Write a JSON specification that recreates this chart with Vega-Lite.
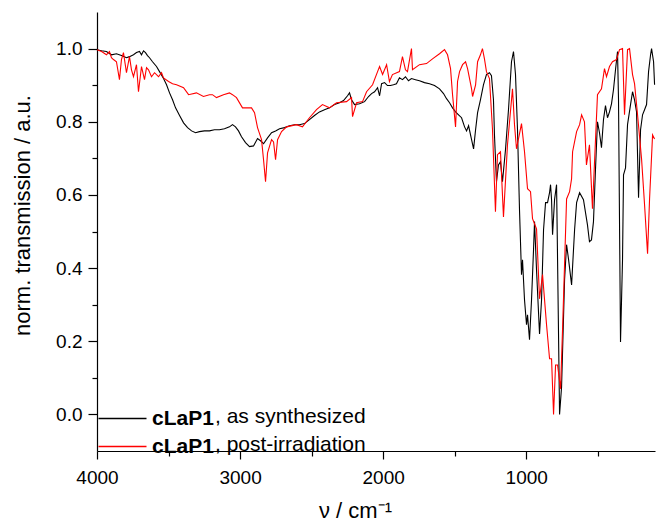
{
"$schema":"https://vega.github.io/schema/vega-lite/v6.json",
"width":558,"height":439,
"autosize":{"type":"none"},
"padding":{"left":97,"top":12,"right":1,"bottom":75},
"background":"white",
"config":{"view":{"stroke":null},
"axis":{"grid":false,"domainColor":"#000","domainWidth":1.2,"tickColor":"#000","tickWidth":1.2,"labelColor":"#000","labelFont":"Liberation Sans","labelFontSize":19,"titleFont":"Liberation Sans","titleFontSize":22,"titleFontWeight":"normal","titleColor":"#000"},
"legend":{"labelFont":"Liberation Sans","labelColor":"#000"}},
"datasets":{"spec":[
{"wn":4000,"T":0.997,"s":"as synthesized","s2":", as synthesized"},{"wn":3968,"T":0.994,"s":"as synthesized","s2":", as synthesized"},{"wn":3934,"T":0.992,"s":"as synthesized","s2":", as synthesized"},{"wn":3899,"T":0.983,"s":"as synthesized","s2":", as synthesized"},{"wn":3864,"T":0.986,"s":"as synthesized","s2":", as synthesized"},{"wn":3829,"T":0.981,"s":"as synthesized","s2":", as synthesized"},{"wn":3794,"T":0.975,"s":"as synthesized","s2":", as synthesized"},{"wn":3773,"T":0.978,"s":"as synthesized","s2":", as synthesized"},{"wn":3745,"T":0.983,"s":"as synthesized","s2":", as synthesized"},{"wn":3724,"T":0.989,"s":"as synthesized","s2":", as synthesized"},{"wn":3703,"T":0.992,"s":"as synthesized","s2":", as synthesized"},{"wn":3689,"T":0.983,"s":"as synthesized","s2":", as synthesized"},{"wn":3675,"T":0.994,"s":"as synthesized","s2":", as synthesized"},{"wn":3661,"T":0.989,"s":"as synthesized","s2":", as synthesized"},{"wn":3647,"T":0.981,"s":"as synthesized","s2":", as synthesized"},{"wn":3633,"T":0.975,"s":"as synthesized","s2":", as synthesized"},{"wn":3612,"T":0.964,"s":"as synthesized","s2":", as synthesized"},{"wn":3584,"T":0.951,"s":"as synthesized","s2":", as synthesized"},{"wn":3563,"T":0.937,"s":"as synthesized","s2":", as synthesized"},{"wn":3535,"T":0.918,"s":"as synthesized","s2":", as synthesized"},{"wn":3514,"T":0.901,"s":"as synthesized","s2":", as synthesized"},{"wn":3493,"T":0.879,"s":"as synthesized","s2":", as synthesized"},{"wn":3472,"T":0.860,"s":"as synthesized","s2":", as synthesized"},{"wn":3451,"T":0.838,"s":"as synthesized","s2":", as synthesized"},{"wn":3423,"T":0.817,"s":"as synthesized","s2":", as synthesized"},{"wn":3395,"T":0.797,"s":"as synthesized","s2":", as synthesized"},{"wn":3367,"T":0.784,"s":"as synthesized","s2":", as synthesized"},{"wn":3339,"T":0.775,"s":"as synthesized","s2":", as synthesized"},{"wn":3311,"T":0.770,"s":"as synthesized","s2":", as synthesized"},{"wn":3284,"T":0.773,"s":"as synthesized","s2":", as synthesized"},{"wn":3249,"T":0.775,"s":"as synthesized","s2":", as synthesized"},{"wn":3214,"T":0.775,"s":"as synthesized","s2":", as synthesized"},{"wn":3179,"T":0.778,"s":"as synthesized","s2":", as synthesized"},{"wn":3144,"T":0.778,"s":"as synthesized","s2":", as synthesized"},{"wn":3109,"T":0.781,"s":"as synthesized","s2":", as synthesized"},{"wn":3074,"T":0.786,"s":"as synthesized","s2":", as synthesized"},{"wn":3053,"T":0.792,"s":"as synthesized","s2":", as synthesized"},{"wn":3032,"T":0.786,"s":"as synthesized","s2":", as synthesized"},{"wn":3011,"T":0.775,"s":"as synthesized","s2":", as synthesized"},{"wn":2990,"T":0.759,"s":"as synthesized","s2":", as synthesized"},{"wn":2962,"T":0.743,"s":"as synthesized","s2":", as synthesized"},{"wn":2934,"T":0.732,"s":"as synthesized","s2":", as synthesized"},{"wn":2906,"T":0.734,"s":"as synthesized","s2":", as synthesized"},{"wn":2878,"T":0.754,"s":"as synthesized","s2":", as synthesized"},{"wn":2857,"T":0.748,"s":"as synthesized","s2":", as synthesized"},{"wn":2836,"T":0.740,"s":"as synthesized","s2":", as synthesized"},{"wn":2808,"T":0.756,"s":"as synthesized","s2":", as synthesized"},{"wn":2780,"T":0.770,"s":"as synthesized","s2":", as synthesized"},{"wn":2752,"T":0.775,"s":"as synthesized","s2":", as synthesized"},{"wn":2724,"T":0.781,"s":"as synthesized","s2":", as synthesized"},{"wn":2689,"T":0.784,"s":"as synthesized","s2":", as synthesized"},{"wn":2654,"T":0.789,"s":"as synthesized","s2":", as synthesized"},{"wn":2620,"T":0.792,"s":"as synthesized","s2":", as synthesized"},{"wn":2585,"T":0.792,"s":"as synthesized","s2":", as synthesized"},{"wn":2550,"T":0.795,"s":"as synthesized","s2":", as synthesized"},{"wn":2515,"T":0.806,"s":"as synthesized","s2":", as synthesized"},{"wn":2480,"T":0.817,"s":"as synthesized","s2":", as synthesized"},{"wn":2445,"T":0.827,"s":"as synthesized","s2":", as synthesized"},{"wn":2410,"T":0.833,"s":"as synthesized","s2":", as synthesized"},{"wn":2375,"T":0.838,"s":"as synthesized","s2":", as synthesized"},{"wn":2340,"T":0.847,"s":"as synthesized","s2":", as synthesized"},{"wn":2305,"T":0.852,"s":"as synthesized","s2":", as synthesized"},{"wn":2277,"T":0.858,"s":"as synthesized","s2":", as synthesized"},{"wn":2249,"T":0.871,"s":"as synthesized","s2":", as synthesized"},{"wn":2235,"T":0.879,"s":"as synthesized","s2":", as synthesized"},{"wn":2221,"T":0.860,"s":"as synthesized","s2":", as synthesized"},{"wn":2200,"T":0.847,"s":"as synthesized","s2":", as synthesized"},{"wn":2165,"T":0.849,"s":"as synthesized","s2":", as synthesized"},{"wn":2130,"T":0.855,"s":"as synthesized","s2":", as synthesized"},{"wn":2102,"T":0.869,"s":"as synthesized","s2":", as synthesized"},{"wn":2081,"T":0.877,"s":"as synthesized","s2":", as synthesized"},{"wn":2060,"T":0.882,"s":"as synthesized","s2":", as synthesized"},{"wn":2039,"T":0.893,"s":"as synthesized","s2":", as synthesized"},{"wn":2025,"T":0.871,"s":"as synthesized","s2":", as synthesized"},{"wn":2011,"T":0.904,"s":"as synthesized","s2":", as synthesized"},{"wn":1990,"T":0.907,"s":"as synthesized","s2":", as synthesized"},{"wn":1970,"T":0.899,"s":"as synthesized","s2":", as synthesized"},{"wn":1949,"T":0.899,"s":"as synthesized","s2":", as synthesized"},{"wn":1928,"T":0.901,"s":"as synthesized","s2":", as synthesized"},{"wn":1907,"T":0.904,"s":"as synthesized","s2":", as synthesized"},{"wn":1886,"T":0.920,"s":"as synthesized","s2":", as synthesized"},{"wn":1865,"T":0.915,"s":"as synthesized","s2":", as synthesized"},{"wn":1844,"T":0.923,"s":"as synthesized","s2":", as synthesized"},{"wn":1823,"T":0.912,"s":"as synthesized","s2":", as synthesized"},{"wn":1802,"T":0.918,"s":"as synthesized","s2":", as synthesized"},{"wn":1774,"T":0.915,"s":"as synthesized","s2":", as synthesized"},{"wn":1746,"T":0.912,"s":"as synthesized","s2":", as synthesized"},{"wn":1711,"T":0.907,"s":"as synthesized","s2":", as synthesized"},{"wn":1676,"T":0.904,"s":"as synthesized","s2":", as synthesized"},{"wn":1641,"T":0.899,"s":"as synthesized","s2":", as synthesized"},{"wn":1606,"T":0.890,"s":"as synthesized","s2":", as synthesized"},{"wn":1578,"T":0.877,"s":"as synthesized","s2":", as synthesized"},{"wn":1557,"T":0.863,"s":"as synthesized","s2":", as synthesized"},{"wn":1536,"T":0.852,"s":"as synthesized","s2":", as synthesized"},{"wn":1515,"T":0.838,"s":"as synthesized","s2":", as synthesized"},{"wn":1494,"T":0.827,"s":"as synthesized","s2":", as synthesized"},{"wn":1473,"T":0.819,"s":"as synthesized","s2":", as synthesized"},{"wn":1452,"T":0.811,"s":"as synthesized","s2":", as synthesized"},{"wn":1431,"T":0.786,"s":"as synthesized","s2":", as synthesized"},{"wn":1417,"T":0.775,"s":"as synthesized","s2":", as synthesized"},{"wn":1403,"T":0.789,"s":"as synthesized","s2":", as synthesized"},{"wn":1382,"T":0.751,"s":"as synthesized","s2":", as synthesized"},{"wn":1368,"T":0.726,"s":"as synthesized","s2":", as synthesized"},{"wn":1354,"T":0.778,"s":"as synthesized","s2":", as synthesized"},{"wn":1340,"T":0.825,"s":"as synthesized","s2":", as synthesized"},{"wn":1320,"T":0.860,"s":"as synthesized","s2":", as synthesized"},{"wn":1299,"T":0.901,"s":"as synthesized","s2":", as synthesized"},{"wn":1278,"T":0.929,"s":"as synthesized","s2":", as synthesized"},{"wn":1257,"T":0.934,"s":"as synthesized","s2":", as synthesized"},{"wn":1243,"T":0.926,"s":"as synthesized","s2":", as synthesized"},{"wn":1229,"T":0.860,"s":"as synthesized","s2":", as synthesized"},{"wn":1222,"T":0.764,"s":"as synthesized","s2":", as synthesized"},{"wn":1208,"T":0.636,"s":"as synthesized","s2":", as synthesized"},{"wn":1194,"T":0.682,"s":"as synthesized","s2":", as synthesized"},{"wn":1180,"T":0.691,"s":"as synthesized","s2":", as synthesized"},{"wn":1166,"T":0.636,"s":"as synthesized","s2":", as synthesized"},{"wn":1145,"T":0.723,"s":"as synthesized","s2":", as synthesized"},{"wn":1124,"T":0.833,"s":"as synthesized","s2":", as synthesized"},{"wn":1103,"T":0.964,"s":"as synthesized","s2":", as synthesized"},{"wn":1089,"T":0.992,"s":"as synthesized","s2":", as synthesized"},{"wn":1075,"T":0.929,"s":"as synthesized","s2":", as synthesized"},{"wn":1061,"T":0.778,"s":"as synthesized","s2":", as synthesized"},{"wn":1047,"T":0.559,"s":"as synthesized","s2":", as synthesized"},{"wn":1033,"T":0.382,"s":"as synthesized","s2":", as synthesized"},{"wn":1026,"T":0.423,"s":"as synthesized","s2":", as synthesized"},{"wn":1012,"T":0.313,"s":"as synthesized","s2":", as synthesized"},{"wn":998,"T":0.245,"s":"as synthesized","s2":", as synthesized"},{"wn":991,"T":0.272,"s":"as synthesized","s2":", as synthesized"},{"wn":977,"T":0.204,"s":"as synthesized","s2":", as synthesized"},{"wn":963,"T":0.313,"s":"as synthesized","s2":", as synthesized"},{"wn":949,"T":0.450,"s":"as synthesized","s2":", as synthesized"},{"wn":942,"T":0.527,"s":"as synthesized","s2":", as synthesized"},{"wn":928,"T":0.395,"s":"as synthesized","s2":", as synthesized"},{"wn":907,"T":0.220,"s":"as synthesized","s2":", as synthesized"},{"wn":893,"T":0.313,"s":"as synthesized","s2":", as synthesized"},{"wn":879,"T":0.505,"s":"as synthesized","s2":", as synthesized"},{"wn":865,"T":0.579,"s":"as synthesized","s2":", as synthesized"},{"wn":851,"T":0.579,"s":"as synthesized","s2":", as synthesized"},{"wn":837,"T":0.606,"s":"as synthesized","s2":", as synthesized"},{"wn":830,"T":0.628,"s":"as synthesized","s2":", as synthesized"},{"wn":823,"T":0.587,"s":"as synthesized","s2":", as synthesized"},{"wn":816,"T":0.491,"s":"as synthesized","s2":", as synthesized"},{"wn":802,"T":0.587,"s":"as synthesized","s2":", as synthesized"},{"wn":788,"T":0.628,"s":"as synthesized","s2":", as synthesized"},{"wn":781,"T":0.423,"s":"as synthesized","s2":", as synthesized"},{"wn":767,"T":0.0,"s":"as synthesized","s2":", as synthesized"},{"wn":753,"T":0.075,"s":"as synthesized","s2":", as synthesized"},{"wn":732,"T":0.368,"s":"as synthesized","s2":", as synthesized"},{"wn":718,"T":0.464,"s":"as synthesized","s2":", as synthesized"},{"wn":704,"T":0.423,"s":"as synthesized","s2":", as synthesized"},{"wn":683,"T":0.354,"s":"as synthesized","s2":", as synthesized"},{"wn":662,"T":0.505,"s":"as synthesized","s2":", as synthesized"},{"wn":648,"T":0.579,"s":"as synthesized","s2":", as synthesized"},{"wn":627,"T":0.606,"s":"as synthesized","s2":", as synthesized"},{"wn":600,"T":0.587,"s":"as synthesized","s2":", as synthesized"},{"wn":572,"T":0.518,"s":"as synthesized","s2":", as synthesized"},{"wn":558,"T":0.472,"s":"as synthesized","s2":", as synthesized"},{"wn":544,"T":0.477,"s":"as synthesized","s2":", as synthesized"},{"wn":530,"T":0.527,"s":"as synthesized","s2":", as synthesized"},{"wn":516,"T":0.669,"s":"as synthesized","s2":", as synthesized"},{"wn":502,"T":0.800,"s":"as synthesized","s2":", as synthesized"},{"wn":488,"T":0.770,"s":"as synthesized","s2":", as synthesized"},{"wn":474,"T":0.729,"s":"as synthesized","s2":", as synthesized"},{"wn":460,"T":0.806,"s":"as synthesized","s2":", as synthesized"},{"wn":446,"T":0.844,"s":"as synthesized","s2":", as synthesized"},{"wn":432,"T":0.811,"s":"as synthesized","s2":", as synthesized"},{"wn":418,"T":0.827,"s":"as synthesized","s2":", as synthesized"},{"wn":404,"T":0.849,"s":"as synthesized","s2":", as synthesized"},{"wn":390,"T":0.888,"s":"as synthesized","s2":", as synthesized"},{"wn":376,"T":0.942,"s":"as synthesized","s2":", as synthesized"},{"wn":362,"T":0.992,"s":"as synthesized","s2":", as synthesized"},{"wn":355,"T":0.860,"s":"as synthesized","s2":", as synthesized"},{"wn":341,"T":0.198,"s":"as synthesized","s2":", as synthesized"},{"wn":327,"T":0.423,"s":"as synthesized","s2":", as synthesized"},{"wn":320,"T":0.655,"s":"as synthesized","s2":", as synthesized"},{"wn":306,"T":0.674,"s":"as synthesized","s2":", as synthesized"},{"wn":292,"T":0.792,"s":"as synthesized","s2":", as synthesized"},{"wn":271,"T":0.847,"s":"as synthesized","s2":", as synthesized"},{"wn":257,"T":0.882,"s":"as synthesized","s2":", as synthesized"},{"wn":243,"T":0.860,"s":"as synthesized","s2":", as synthesized"},{"wn":229,"T":0.827,"s":"as synthesized","s2":", as synthesized"},{"wn":215,"T":0.592,"s":"as synthesized","s2":", as synthesized"},{"wn":201,"T":0.778,"s":"as synthesized","s2":", as synthesized"},{"wn":187,"T":0.819,"s":"as synthesized","s2":", as synthesized"},{"wn":173,"T":0.833,"s":"as synthesized","s2":", as synthesized"},{"wn":159,"T":0.847,"s":"as synthesized","s2":", as synthesized"},{"wn":145,"T":0.937,"s":"as synthesized","s2":", as synthesized"},{"wn":131,"T":0.983,"s":"as synthesized","s2":", as synthesized"},{"wn":124,"T":1.0,"s":"as synthesized","s2":", as synthesized"},{"wn":110,"T":0.964,"s":"as synthesized","s2":", as synthesized"},{"wn":103,"T":0.901,"s":"as synthesized","s2":", as synthesized"},
{"wn":4000,"T":0.997,"s":"post-irradiation","s2":", post-irradiation"},{"wn":3968,"T":0.992,"s":"post-irradiation","s2":", post-irradiation"},{"wn":3934,"T":0.983,"s":"post-irradiation","s2":", post-irradiation"},{"wn":3913,"T":0.992,"s":"post-irradiation","s2":", post-irradiation"},{"wn":3899,"T":0.975,"s":"post-irradiation","s2":", post-irradiation"},{"wn":3885,"T":0.970,"s":"post-irradiation","s2":", post-irradiation"},{"wn":3864,"T":0.964,"s":"post-irradiation","s2":", post-irradiation"},{"wn":3843,"T":0.915,"s":"post-irradiation","s2":", post-irradiation"},{"wn":3829,"T":0.970,"s":"post-irradiation","s2":", post-irradiation"},{"wn":3815,"T":0.989,"s":"post-irradiation","s2":", post-irradiation"},{"wn":3794,"T":0.934,"s":"post-irradiation","s2":", post-irradiation"},{"wn":3773,"T":0.978,"s":"post-irradiation","s2":", post-irradiation"},{"wn":3759,"T":0.942,"s":"post-irradiation","s2":", post-irradiation"},{"wn":3745,"T":0.923,"s":"post-irradiation","s2":", post-irradiation"},{"wn":3724,"T":0.956,"s":"post-irradiation","s2":", post-irradiation"},{"wn":3710,"T":0.882,"s":"post-irradiation","s2":", post-irradiation"},{"wn":3689,"T":0.951,"s":"post-irradiation","s2":", post-irradiation"},{"wn":3668,"T":0.915,"s":"post-irradiation","s2":", post-irradiation"},{"wn":3654,"T":0.948,"s":"post-irradiation","s2":", post-irradiation"},{"wn":3640,"T":0.942,"s":"post-irradiation","s2":", post-irradiation"},{"wn":3619,"T":0.923,"s":"post-irradiation","s2":", post-irradiation"},{"wn":3598,"T":0.934,"s":"post-irradiation","s2":", post-irradiation"},{"wn":3570,"T":0.923,"s":"post-irradiation","s2":", post-irradiation"},{"wn":3549,"T":0.934,"s":"post-irradiation","s2":", post-irradiation"},{"wn":3535,"T":0.920,"s":"post-irradiation","s2":", post-irradiation"},{"wn":3500,"T":0.910,"s":"post-irradiation","s2":", post-irradiation"},{"wn":3472,"T":0.904,"s":"post-irradiation","s2":", post-irradiation"},{"wn":3444,"T":0.901,"s":"post-irradiation","s2":", post-irradiation"},{"wn":3395,"T":0.893,"s":"post-irradiation","s2":", post-irradiation"},{"wn":3360,"T":0.874,"s":"post-irradiation","s2":", post-irradiation"},{"wn":3305,"T":0.879,"s":"post-irradiation","s2":", post-irradiation"},{"wn":3256,"T":0.869,"s":"post-irradiation","s2":", post-irradiation"},{"wn":3214,"T":0.874,"s":"post-irradiation","s2":", post-irradiation"},{"wn":3193,"T":0.874,"s":"post-irradiation","s2":", post-irradiation"},{"wn":3165,"T":0.866,"s":"post-irradiation","s2":", post-irradiation"},{"wn":3116,"T":0.874,"s":"post-irradiation","s2":", post-irradiation"},{"wn":3074,"T":0.879,"s":"post-irradiation","s2":", post-irradiation"},{"wn":3053,"T":0.874,"s":"post-irradiation","s2":", post-irradiation"},{"wn":3025,"T":0.866,"s":"post-irradiation","s2":", post-irradiation"},{"wn":2983,"T":0.838,"s":"post-irradiation","s2":", post-irradiation"},{"wn":2920,"T":0.838,"s":"post-irradiation","s2":", post-irradiation"},{"wn":2899,"T":0.825,"s":"post-irradiation","s2":", post-irradiation"},{"wn":2878,"T":0.784,"s":"post-irradiation","s2":", post-irradiation"},{"wn":2850,"T":0.751,"s":"post-irradiation","s2":", post-irradiation"},{"wn":2836,"T":0.696,"s":"post-irradiation","s2":", post-irradiation"},{"wn":2822,"T":0.636,"s":"post-irradiation","s2":", post-irradiation"},{"wn":2808,"T":0.715,"s":"post-irradiation","s2":", post-irradiation"},{"wn":2780,"T":0.751,"s":"post-irradiation","s2":", post-irradiation"},{"wn":2766,"T":0.745,"s":"post-irradiation","s2":", post-irradiation"},{"wn":2752,"T":0.696,"s":"post-irradiation","s2":", post-irradiation"},{"wn":2738,"T":0.751,"s":"post-irradiation","s2":", post-irradiation"},{"wn":2710,"T":0.773,"s":"post-irradiation","s2":", post-irradiation"},{"wn":2675,"T":0.786,"s":"post-irradiation","s2":", post-irradiation"},{"wn":2606,"T":0.792,"s":"post-irradiation","s2":", post-irradiation"},{"wn":2564,"T":0.786,"s":"post-irradiation","s2":", post-irradiation"},{"wn":2515,"T":0.811,"s":"post-irradiation","s2":", post-irradiation"},{"wn":2466,"T":0.833,"s":"post-irradiation","s2":", post-irradiation"},{"wn":2424,"T":0.847,"s":"post-irradiation","s2":", post-irradiation"},{"wn":2375,"T":0.838,"s":"post-irradiation","s2":", post-irradiation"},{"wn":2326,"T":0.852,"s":"post-irradiation","s2":", post-irradiation"},{"wn":2256,"T":0.855,"s":"post-irradiation","s2":", post-irradiation"},{"wn":2221,"T":0.866,"s":"post-irradiation","s2":", post-irradiation"},{"wn":2214,"T":0.814,"s":"post-irradiation","s2":", post-irradiation"},{"wn":2186,"T":0.852,"s":"post-irradiation","s2":", post-irradiation"},{"wn":2144,"T":0.855,"s":"post-irradiation","s2":", post-irradiation"},{"wn":2116,"T":0.882,"s":"post-irradiation","s2":", post-irradiation"},{"wn":2074,"T":0.901,"s":"post-irradiation","s2":", post-irradiation"},{"wn":2039,"T":0.937,"s":"post-irradiation","s2":", post-irradiation"},{"wn":2025,"T":0.951,"s":"post-irradiation","s2":", post-irradiation"},{"wn":2004,"T":0.929,"s":"post-irradiation","s2":", post-irradiation"},{"wn":1976,"T":0.956,"s":"post-irradiation","s2":", post-irradiation"},{"wn":1956,"T":0.910,"s":"post-irradiation","s2":", post-irradiation"},{"wn":1935,"T":0.929,"s":"post-irradiation","s2":", post-irradiation"},{"wn":1886,"T":0.937,"s":"post-irradiation","s2":", post-irradiation"},{"wn":1865,"T":0.978,"s":"post-irradiation","s2":", post-irradiation"},{"wn":1844,"T":0.942,"s":"post-irradiation","s2":", post-irradiation"},{"wn":1830,"T":0.937,"s":"post-irradiation","s2":", post-irradiation"},{"wn":1802,"T":1.0,"s":"post-irradiation","s2":", post-irradiation"},{"wn":1795,"T":0.942,"s":"post-irradiation","s2":", post-irradiation"},{"wn":1746,"T":0.956,"s":"post-irradiation","s2":", post-irradiation"},{"wn":1697,"T":0.959,"s":"post-irradiation","s2":", post-irradiation"},{"wn":1655,"T":0.972,"s":"post-irradiation","s2":", post-irradiation"},{"wn":1606,"T":0.986,"s":"post-irradiation","s2":", post-irradiation"},{"wn":1571,"T":0.997,"s":"post-irradiation","s2":", post-irradiation"},{"wn":1550,"T":0.983,"s":"post-irradiation","s2":", post-irradiation"},{"wn":1529,"T":0.945,"s":"post-irradiation","s2":", post-irradiation"},{"wn":1515,"T":0.874,"s":"post-irradiation","s2":", post-irradiation"},{"wn":1494,"T":0.786,"s":"post-irradiation","s2":", post-irradiation"},{"wn":1480,"T":0.910,"s":"post-irradiation","s2":", post-irradiation"},{"wn":1466,"T":0.937,"s":"post-irradiation","s2":", post-irradiation"},{"wn":1445,"T":0.956,"s":"post-irradiation","s2":", post-irradiation"},{"wn":1424,"T":0.964,"s":"post-irradiation","s2":", post-irradiation"},{"wn":1410,"T":0.945,"s":"post-irradiation","s2":", post-irradiation"},{"wn":1382,"T":0.890,"s":"post-irradiation","s2":", post-irradiation"},{"wn":1375,"T":0.869,"s":"post-irradiation","s2":", post-irradiation"},{"wn":1354,"T":0.901,"s":"post-irradiation","s2":", post-irradiation"},{"wn":1340,"T":0.964,"s":"post-irradiation","s2":", post-irradiation"},{"wn":1320,"T":0.983,"s":"post-irradiation","s2":", post-irradiation"},{"wn":1306,"T":1.0,"s":"post-irradiation","s2":", post-irradiation"},{"wn":1292,"T":0.972,"s":"post-irradiation","s2":", post-irradiation"},{"wn":1278,"T":0.937,"s":"post-irradiation","s2":", post-irradiation"},{"wn":1257,"T":0.918,"s":"post-irradiation","s2":", post-irradiation"},{"wn":1236,"T":0.781,"s":"post-irradiation","s2":", post-irradiation"},{"wn":1215,"T":0.554,"s":"post-irradiation","s2":", post-irradiation"},{"wn":1201,"T":0.710,"s":"post-irradiation","s2":", post-irradiation"},{"wn":1180,"T":0.718,"s":"post-irradiation","s2":", post-irradiation"},{"wn":1159,"T":0.540,"s":"post-irradiation","s2":", post-irradiation"},{"wn":1131,"T":0.737,"s":"post-irradiation","s2":", post-irradiation"},{"wn":1096,"T":0.890,"s":"post-irradiation","s2":", post-irradiation"},{"wn":1082,"T":0.792,"s":"post-irradiation","s2":", post-irradiation"},{"wn":1068,"T":0.726,"s":"post-irradiation","s2":", post-irradiation"},{"wn":1033,"T":0.795,"s":"post-irradiation","s2":", post-irradiation"},{"wn":1012,"T":0.718,"s":"post-irradiation","s2":", post-irradiation"},{"wn":991,"T":0.617,"s":"post-irradiation","s2":", post-irradiation"},{"wn":970,"T":0.609,"s":"post-irradiation","s2":", post-irradiation"},{"wn":956,"T":0.535,"s":"post-irradiation","s2":", post-irradiation"},{"wn":928,"T":0.507,"s":"post-irradiation","s2":", post-irradiation"},{"wn":907,"T":0.316,"s":"post-irradiation","s2":", post-irradiation"},{"wn":886,"T":0.382,"s":"post-irradiation","s2":", post-irradiation"},{"wn":858,"T":0.245,"s":"post-irradiation","s2":", post-irradiation"},{"wn":837,"T":0.152,"s":"post-irradiation","s2":", post-irradiation"},{"wn":823,"T":0.152,"s":"post-irradiation","s2":", post-irradiation"},{"wn":809,"T":0.0,"s":"post-irradiation","s2":", post-irradiation"},{"wn":795,"T":0.135,"s":"post-irradiation","s2":", post-irradiation"},{"wn":781,"T":0.135,"s":"post-irradiation","s2":", post-irradiation"},{"wn":760,"T":0.070,"s":"post-irradiation","s2":", post-irradiation"},{"wn":746,"T":0.234,"s":"post-irradiation","s2":", post-irradiation"},{"wn":718,"T":0.589,"s":"post-irradiation","s2":", post-irradiation"},{"wn":697,"T":0.609,"s":"post-irradiation","s2":", post-irradiation"},{"wn":683,"T":0.644,"s":"post-irradiation","s2":", post-irradiation"},{"wn":676,"T":0.718,"s":"post-irradiation","s2":", post-irradiation"},{"wn":648,"T":0.773,"s":"post-irradiation","s2":", post-irradiation"},{"wn":627,"T":0.792,"s":"post-irradiation","s2":", post-irradiation"},{"wn":613,"T":0.819,"s":"post-irradiation","s2":", post-irradiation"},{"wn":593,"T":0.800,"s":"post-irradiation","s2":", post-irradiation"},{"wn":579,"T":0.682,"s":"post-irradiation","s2":", post-irradiation"},{"wn":558,"T":0.737,"s":"post-irradiation","s2":", post-irradiation"},{"wn":537,"T":0.562,"s":"post-irradiation","s2":", post-irradiation"},{"wn":502,"T":0.874,"s":"post-irradiation","s2":", post-irradiation"},{"wn":474,"T":0.890,"s":"post-irradiation","s2":", post-irradiation"},{"wn":453,"T":0.945,"s":"post-irradiation","s2":", post-irradiation"},{"wn":439,"T":0.923,"s":"post-irradiation","s2":", post-irradiation"},{"wn":418,"T":0.951,"s":"post-irradiation","s2":", post-irradiation"},{"wn":397,"T":0.964,"s":"post-irradiation","s2":", post-irradiation"},{"wn":369,"T":0.970,"s":"post-irradiation","s2":", post-irradiation"},{"wn":348,"T":0.997,"s":"post-irradiation","s2":", post-irradiation"},{"wn":327,"T":1.0,"s":"post-irradiation","s2":", post-irradiation"},{"wn":313,"T":0.819,"s":"post-irradiation","s2":", post-irradiation"},{"wn":292,"T":0.997,"s":"post-irradiation","s2":", post-irradiation"},{"wn":278,"T":1.0,"s":"post-irradiation","s2":", post-irradiation"},{"wn":257,"T":0.929,"s":"post-irradiation","s2":", post-irradiation"},{"wn":243,"T":0.904,"s":"post-irradiation","s2":", post-irradiation"},{"wn":222,"T":0.819,"s":"post-irradiation","s2":", post-irradiation"},{"wn":194,"T":0.699,"s":"post-irradiation","s2":", post-irradiation"},{"wn":173,"T":0.573,"s":"post-irradiation","s2":", post-irradiation"},{"wn":152,"T":0.439,"s":"post-irradiation","s2":", post-irradiation"},{"wn":138,"T":0.589,"s":"post-irradiation","s2":", post-irradiation"},{"wn":117,"T":0.764,"s":"post-irradiation","s2":", post-irradiation"},{"wn":103,"T":0.753,"s":"post-irradiation","s2":", post-irradiation"}
]},
"data":{"name":"spec"},
"mark":{"type":"line","strokeWidth":1.1,"interpolate":"linear"},
"encoding":{
"x":{"field":"wn","type":"quantitative","scale":{"domain":[100,4000],"reverse":true,"nice":false,"zero":false},
"axis":{"title":"ν / cm⁻¹","values":[4000,3500,3000,2500,2000,1500,1000,500],"format":"d","labelExpr":"datum.value % 1000 == 0 ? datum.label : ''","tickSize":{"condition":{"test":"datum.value % 1000 == 0","value":8},"value":5},"labelPadding":9,"labelFlush":false,"labelOverlap":false,"titleX":258,"titleY":66,"titleBaseline":"alphabetic","titleAnchor":"middle"}},
"y":{"field":"T","type":"quantitative","scale":{"domain":[-0.1,1.1],"nice":false,"zero":false},
"axis":{"title":"norm. transmission / a.u.","values":[0,0.1,0.2,0.3,0.4,0.5,0.6,0.7,0.8,0.9,1.0],"labelExpr":"round(datum.value*10) % 2 == 0 ? format(datum.value, '.1f') : ''","tickSize":{"condition":{"test":"round(datum.value*10) % 2 == 0","value":9},"value":5},"labelPadding":6,"labelFlush":false,"labelOverlap":false,"titlePadding":21,"titleY":203}},
"color":{"field":"s","type":"nominal","scale":{"domain":["as synthesized","post-irradiation"],"range":["#000000","#ff0000"]},
"legend":{"orient":"none","legendX":15,"legendY":396,"title":null,"symbolType":"M-4,0H4","symbolSize":144,"symbolStrokeWidth":1.5,"labelExpr":"'cLaP1'","labelFontSize":21,"labelFontWeight":"bold","labelOffset":19,"padding":0,"rowPadding":6}},
"opacity":{"field":"s2","type":"nominal","scale":{"domain":[", as synthesized",", post-irradiation"],"range":[1,1]},
"legend":{"orient":"none","legendX":97,"legendY":394,"title":null,"symbolType":"circle","symbolSize":0,"symbolOpacity":0,"symbolStrokeWidth":0,"labelFontSize":21,"labelFontWeight":"normal","labelOffset":0,"padding":0,"rowPadding":6}}
}
}
